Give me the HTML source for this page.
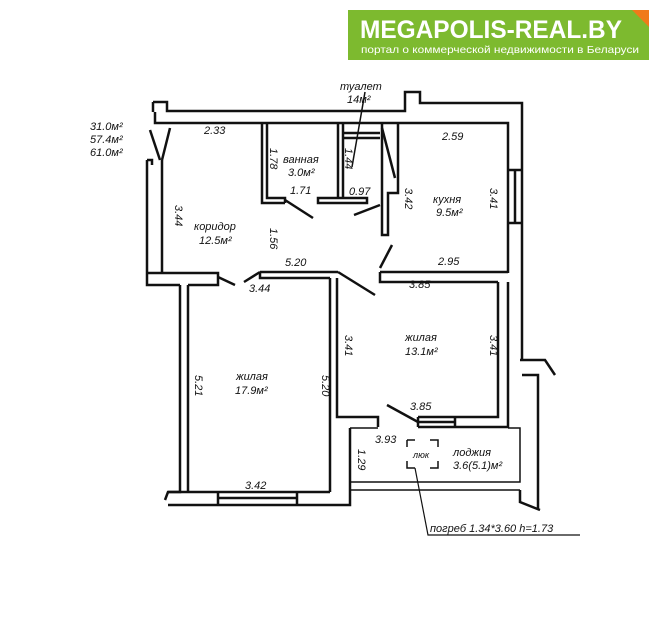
<!DOCTYPE html>
<html><head><meta charset="utf-8"><style>
body{margin:0;background:#fff;width:659px;height:621px;overflow:hidden}
svg text{font-family:"Liberation Sans",sans-serif;font-style:italic;font-size:11px;fill:#111}
</style></head><body>
<svg width="659" height="621" viewBox="0 0 659 621" xmlns="http://www.w3.org/2000/svg">
<rect x="348" y="10" width="301" height="50" fill="#7dba2f"/>
<polygon points="632,10 649,10 649,27" fill="#f07a1a"/>
<text x="360" y="38" textLength="262" lengthAdjust="spacingAndGlyphs" style="font-style:normal;font-weight:bold;font-size:25px;fill:#fff">MEGAPOLIS-REAL.BY</text>
<text x="361" y="53" textLength="278" lengthAdjust="spacingAndGlyphs" style="font-style:normal;font-size:10.5px;fill:#fff">портал о коммерческой недвижимости в Беларуси</text>

<g fill="none" stroke="#111" stroke-width="2.5">
<path d="M153,102 L167,102 L167,111 L405,111 L405,92 L420,92 L420,103 L522,103 L522,360"/>
<path d="M155,112 L155,123 L508,123 L508,273"/>
<path d="M153,102 L153,112"/>
<path d="M508,170 L522,170 M508,223 L522,223 M515,170 L515,223"/>
<path d="M147,160 L147,273 M162,160 L162,272"/>
<path d="M147,160 L152,160 L152,165 M150,130 L160,160 M170,128 L162,160"/>
<path d="M147,273 L218,273 L218,285 L188,285 M147,273 L147,285 L180,285"/>
<path d="M260,272 L338,272 M260,272 L260,278 L330,278"/>
<path d="M218,277 L235,285 M260,272 L244,282"/>
<path d="M338,272 L375,295"/>
<path d="M380,272 L508,272 M380,272 L380,282 L498,282 M380,268 L392,245"/>
<path d="M262,123 L262,203 L285,203 M267,123 L267,198 L285,198 L285,203"/>
<path d="M285,200 L313,218"/>
<path d="M318,198 L367,198 L367,203 L318,203 Z M338,123 L338,198 M343,123 L343,198"/>
<path d="M343,133 L380,133 M343,138 L380,138"/>
<path d="M382,123 L382,235 L388,235 L388,193 L398,193 L398,123"/>
<path d="M382,128 L395,178"/>
<path d="M380,205 L354,215"/>
<path d="M365,92 L352,167" stroke-width="1.5"/>
<path d="M180,285 L180,492 L168,492 L165,500 M188,285 L188,492"/>
<path d="M168,492 L330,492 M168,505 L350,505 L350,428"/>
<path d="M218,492 L218,505 M297,492 L297,505 M218,498 L297,498"/>
<path d="M330,278 L330,492 M337,278 L337,417 L378,417 L378,427"/>
<path d="M418,417 L498,417 L498,282 M418,427 L508,427 L508,282"/>
<path d="M418,417 L418,427 M455,417 L455,427 M418,422 L455,422"/>
<path d="M418,422 L387,405"/>
<path d="M350,428 L378,428 M508,428 L520,428 L520,482 L350,482 M350,490 L520,490" stroke-width="1.5"/>
<path d="M520,360 L545,360 L555,375 M522,375 L538,375 L538,510 M520,490 L520,502 L540,510"/>
<path d="M407,440 L415,440 M430,440 L438,440 L438,447 M438,461 L438,468 L430,468 M415,468 L407,468 L407,461 M407,447 L407,440" stroke-width="1.5"/>
<path d="M415,468 L428,535 L580,535" stroke-width="1.2"/>
</g>

<text x="90" y="130">31.0м²</text>
<text x="90" y="143">57.4м²</text>
<text x="90" y="156">61.0м²</text>
<text x="204" y="134">2.33</text>
<text x="283" y="163">ванная</text>
<text x="288" y="176">3.0м²</text>
<text x="290" y="194">1.71</text>
<text x="340" y="90">туалет</text>
<text x="347" y="103">14м²</text>
<text x="349" y="195">0.97</text>
<text x="442" y="140">2.59</text>
<text x="433" y="203">кухня</text>
<text x="436" y="216">9.5м²</text>
<text x="194" y="230">коридор</text>
<text x="199" y="244">12.5м²</text>
<text x="285" y="266">5.20</text>
<text x="438" y="265">2.95</text>
<text x="249" y="292">3.44</text>
<text x="409" y="288">3.85</text>
<text x="405" y="341">жилая</text>
<text x="405" y="355">13.1м²</text>
<text x="236" y="380">жилая</text>
<text x="235" y="394">17.9м²</text>
<text x="410" y="410">3.85</text>
<text x="375" y="443">3.93</text>
<text x="413" y="458" style="font-size:9px">люк</text>
<text x="453" y="456">лоджия</text>
<text x="453" y="469">3.6(5.1)м²</text>
<text x="245" y="489">3.42</text>
<text x="430" y="532">погреб 1.34*3.60 h=1.73</text>
<g>
<text transform="translate(175,205) rotate(90)">3.44</text>
<text transform="translate(270,148) rotate(90)">1.78</text>
<text transform="translate(345,148) rotate(90)">1.44</text>
<text transform="translate(405,188) rotate(90)">3.42</text>
<text transform="translate(490,188) rotate(90)">3.41</text>
<text transform="translate(270,228) rotate(90)">1.56</text>
<text transform="translate(345,335) rotate(90)">3.41</text>
<text transform="translate(490,335) rotate(90)">3.41</text>
<text transform="translate(195,375) rotate(90)">5.21</text>
<text transform="translate(322,375) rotate(90)">5.20</text>
<text transform="translate(358,449) rotate(90)">1.29</text>
</g>
</svg>
</body></html>
